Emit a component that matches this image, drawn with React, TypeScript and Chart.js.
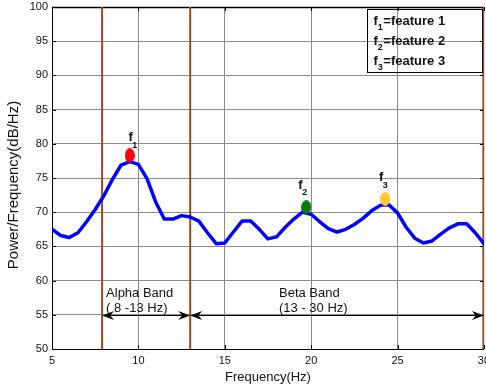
import React, { useEffect, useRef } from 'react';
import { Chart, registerables } from 'chart.js';

Chart.register(...registerables);

// ---------- data ----------
const FREQ = [
  5, 5.5, 6, 6.5, 7, 7.5, 8, 8.5, 9, 9.5,
  10, 10.5, 11, 11.5, 12, 12.5, 13, 13.5, 14, 14.5,
  15, 15.5, 16, 16.5, 17, 17.5, 18, 18.5, 19, 19.5,
  20, 20.5, 21, 21.5, 22, 22.5, 23, 23.5, 24, 24.5,
  25, 25.5, 26, 26.5, 27, 27.5, 28, 28.5, 29, 29.5, 30,
];
const POWER = [
  67.5, 66.6, 66.3, 67.0, 68.6, 70.4, 72.4, 74.8, 76.9, 77.4,
  77.0, 74.9, 71.5, 69.0, 69.0, 69.5, 69.3, 68.7, 67.0, 65.4,
  65.5, 67.1, 68.7, 68.7, 67.5, 66.1, 66.4, 67.8, 69.0, 70.0,
  69.7, 68.6, 67.6, 67.1, 67.5, 68.2, 69.1, 70.2, 71.0, 71.1,
  69.9, 67.8, 66.2, 65.5, 65.8, 66.8, 67.7, 68.3, 68.3, 67.0, 65.4,
];

const FEATURE_SUBS = ['1', '2', '3'];
const FEATURE_FREQ = [9.5, 19.72, 24.29];
const FEATURE_POWER = [78.3, 70.74, 71.97];
const FEATURE_COLORS = ['#FF0000', '#0B7A0B', '#FFC933'];
const LEGEND_TEXT = ['=feature 1', '=feature 2', '=feature 3'];

const BAND_EDGES = [7.9, 13, 30];
const BAND_NAMES = ['Alpha Band', 'Beta Band'];
const BAND_RANGES = ['( 8 -13 Hz)', '(13 - 30 Hz)'];
const BAND_LABEL_X = [8.13, 18.14];
const BAND_LABEL_Y = 58.1;
const ARROW_LEVEL = 55;

const X_TICKS = [5, 10, 15, 20, 25, 30];
const Y_TICKS = [50, 55, 60, 65, 70, 75, 80, 85, 90, 95, 100];
const X_TITLE = 'Frequency(Hz)';
const Y_TITLE = 'Power/Frequency(dB/Hz)';

// ---------- style ----------
const FONT = '"Liberation Sans", Arial, Helvetica, sans-serif';
const BROWN = '#A8461A';
const GRID = '#8c8c8c';
const TEXT = '#111111';
const TARGET_RIGHT = 484;

function ellipseCanvas(color: string): HTMLCanvasElement {
  const c = document.createElement('canvas');
  c.width = 10;
  c.height = 14;
  const g = c.getContext('2d')!;
  g.fillStyle = color;
  g.beginPath();
  g.ellipse(5, 7, 5, 7, 0, 0, Math.PI * 2);
  g.fill();
  return c;
}

function arrowHead(ctx: CanvasRenderingContext2D, tipX: number, y: number, dir: number) {
  const L = 12;
  const W = 4.5;
  const notch = 8;
  ctx.beginPath();
  ctx.moveTo(tipX, y);
  ctx.lineTo(tipX - dir * L, y - W);
  ctx.lineTo(tipX - dir * notch, y);
  ctx.lineTo(tipX - dir * L, y + W);
  ctx.closePath();
  ctx.fill();
}

const LABEL_OFFSETS = [
  { fx: 1, fy: -18, sx: 5, sy: -9.5 },
  { fx: -6, fy: -22, sx: -1.5, sy: -15 },
  { fx: -4, fy: -21.5, sx: 0, sy: -13 },
];

const annotPlugin = {
  id: 'annot',
  beforeDatasetsDraw(chart: any) {
    const { ctx, chartArea: a, scales } = chart;
    const x = scales.x;
    const y = scales.y;
    ctx.save();
    ctx.strokeStyle = '#000';
    ctx.lineWidth = 1;
    ctx.beginPath();
    X_TICKS.forEach((v) => {
      const px = Math.round(x.getPixelForValue(v)) + 0.5;
      ctx.moveTo(px, a.top);
      ctx.lineTo(px, a.top + 4);
      ctx.moveTo(px, a.bottom);
      ctx.lineTo(px, a.bottom - 4);
    });
    Y_TICKS.forEach((v) => {
      const py = Math.round(y.getPixelForValue(v)) + 0.5;
      ctx.moveTo(a.left, py);
      ctx.lineTo(a.left + 4, py);
      ctx.moveTo(a.right, py);
      ctx.lineTo(a.right - 4, py);
    });
    ctx.stroke();
    ctx.lineWidth = 1.5;
    ctx.beginPath();
    ctx.moveTo(a.left, a.top + 0.5);
    ctx.lineTo(a.right, a.top + 0.5);
    ctx.moveTo(a.right - 0.5, a.top);
    ctx.lineTo(a.right - 0.5, a.bottom);
    ctx.stroke();
    ctx.restore();
  },
  afterDatasetsDraw(chart: any) {
    const { ctx, chartArea: a, scales } = chart;
    const x = scales.x;
    const y = scales.y;
    ctx.save();

    // y axis title
    ctx.save();
    ctx.fillStyle = TEXT;
    ctx.font = `15px ${FONT}`;
    ctx.textAlign = 'center';
    ctx.textBaseline = 'middle';
    ctx.translate(14, (a.top + a.bottom) / 2 + 7);
    ctx.rotate(-Math.PI / 2);
    ctx.fillText(Y_TITLE, 0, 0);
    ctx.restore();

    // band arrows
    const ay = Math.round(y.getPixelForValue(ARROW_LEVEL)) + 0.5;
    ctx.strokeStyle = '#000';
    ctx.fillStyle = '#000';
    ctx.lineWidth = 1;
    for (let i = 0; i < BAND_EDGES.length - 1; i++) {
      const x0 = x.getPixelForValue(BAND_EDGES[i]);
      const x1 = x.getPixelForValue(BAND_EDGES[i + 1]);
      ctx.beginPath();
      ctx.moveTo(x0 + 4, ay);
      ctx.lineTo(x1 - 4, ay);
      ctx.stroke();
      arrowHead(ctx, x0, ay, -1);
      arrowHead(ctx, x1, ay, 1);
    }

    // band labels
    ctx.fillStyle = TEXT;
    ctx.font = `13px ${FONT}`;
    ctx.textAlign = 'left';
    ctx.textBaseline = 'middle';
    for (let i = 0; i < BAND_NAMES.length; i++) {
      const lx = x.getPixelForValue(BAND_LABEL_X[i]);
      const ly = y.getPixelForValue(BAND_LABEL_Y);
      ctx.fillText(BAND_NAMES[i], lx, ly);
      ctx.fillText(BAND_RANGES[i], lx, ly + 15);
    }

    // feature labels
    ctx.textAlign = 'center';
    for (let i = 0; i < FEATURE_FREQ.length; i++) {
      const px = x.getPixelForValue(FEATURE_FREQ[i]);
      const py = y.getPixelForValue(FEATURE_POWER[i]);
      const o = LABEL_OFFSETS[i];
      ctx.font = `bold 13px ${FONT}`;
      ctx.fillText('f', px + o.fx, py + o.fy);
      ctx.font = `bold 9px ${FONT}`;
      ctx.fillText(FEATURE_SUBS[i], px + o.sx, py + o.sy);
    }

    // legend box
    const bw = 115;
    const bh = 63;
    const bx = Math.round(a.right - 2 - bw) + 0.5;
    const by = Math.round(a.top + 2) + 0.5;
    ctx.strokeStyle = '#000';
    ctx.lineWidth = 1;
    ctx.strokeRect(bx, by, bw, bh);
    ctx.textAlign = 'left';
    for (let i = 0; i < LEGEND_TEXT.length; i++) {
      const ty = by + 12 + i * 20;
      const tx = bx + 6;
      ctx.font = `bold 13px ${FONT}`;
      ctx.fillText('f', tx, ty);
      const fw = ctx.measureText('f').width;
      ctx.font = `bold 9px ${FONT}`;
      ctx.fillText(FEATURE_SUBS[i], tx + fw, ty + 6);
      const sw = ctx.measureText(FEATURE_SUBS[i]).width;
      ctx.font = `bold 13px ${FONT}`;
      ctx.fillText(LEGEND_TEXT[i], tx + fw + sw + 0.5, ty);
    }
    ctx.restore();
  },
};

export default function App() {
  const ref = useRef<HTMLCanvasElement | null>(null);

  useEffect(() => {
    const canvas = ref.current;
    if (!canvas) return;

    const markerSets = FEATURE_FREQ.map((f, i) => ({
      type: 'scatter' as const,
      data: [{ x: f, y: FEATURE_POWER[i] }],
      pointStyle: ellipseCanvas(FEATURE_COLORS[i]),
      pointRadius: 6,
      backgroundColor: FEATURE_COLORS[i],
      borderColor: FEATURE_COLORS[i],
    }));

    const curve = {
      type: 'line' as const,
      data: FREQ.map((f, i) => ({ x: f, y: POWER[i] })),
      borderColor: '#0000FF',
      borderWidth: 3.5,
      pointRadius: 0,
      tension: 0,
      fill: false,
      borderJoinStyle: 'round' as const,
      borderCapStyle: 'round' as const,
    };

    const bandLines = BAND_EDGES.map((e) => ({
      type: 'line' as const,
      data: [
        { x: e, y: Y_TICKS[0] },
        { x: e, y: Y_TICKS[Y_TICKS.length - 1] },
      ],
      borderColor: BROWN,
      borderWidth: 2,
      pointRadius: 0,
      fill: false,
    }));

    const chart = new Chart(canvas, {
      type: 'line',
      data: { datasets: [...markerSets, curve, ...bandLines] as any },
      options: {
        animation: false,
        responsive: false,
        maintainAspectRatio: false,
        layout: { padding: { top: 6, right: 2, bottom: 0, left: 0 } },
        plugins: {
          legend: { display: false },
          tooltip: { enabled: false },
        },
        scales: {
          x: {
            type: 'linear',
            min: 5,
            max: 30,
            afterBuildTicks: (s: any) => {
              s.ticks = X_TICKS.map((v) => ({ value: v }));
            },
            afterFit: (s: any) => {
              s.height = 40;
            },
            grid: { color: GRID, lineWidth: 1, drawTicks: false },
            border: { color: '#000', width: 1 },
            ticks: {
              padding: 5,
              color: TEXT,
              autoSkip: false,
              maxRotation: 0,
              font: { family: FONT, size: 11 },
            },
            title: {
              display: true,
              text: X_TITLE,
              color: TEXT,
              font: { family: FONT, size: 13 },
              padding: { top: 0, bottom: 4 },
            },
          },
          y: {
            type: 'linear',
            min: 50,
            max: 100,
            afterBuildTicks: (s: any) => {
              s.ticks = Y_TICKS.map((v) => ({ value: v }));
            },
            afterFit: (s: any) => {
              s.width = 52;
              s.paddingTop = 0;
              s.paddingBottom = 0;
            },
            grid: { color: GRID, lineWidth: 1, drawTicks: false },
            border: { color: '#000', width: 1 },
            ticks: {
              padding: 4,
              color: TEXT,
              autoSkip: false,
              font: { family: FONT, size: 11 },
            },
          },
        },
      },
      plugins: [annotPlugin],
    });

    // make the plot area reach the reference's right edge; the overflow is cut off
    const right = chart.chartArea.right;
    if (Math.abs(right - TARGET_RIGHT) > 0.5) {
      chart.resize(Math.round(chart.width + (TARGET_RIGHT - right)), 389);
    }

    return () => chart.destroy();
  }, []);

  return (
    <div
      style={{
        position: 'fixed',
        left: 0,
        top: 0,
        width: 486,
        height: 389,
        overflow: 'hidden',
        background: '#ffffff',
      }}
    >
      <canvas ref={ref} width={486} height={389} style={{ display: 'block' }} />
    </div>
  );
}
